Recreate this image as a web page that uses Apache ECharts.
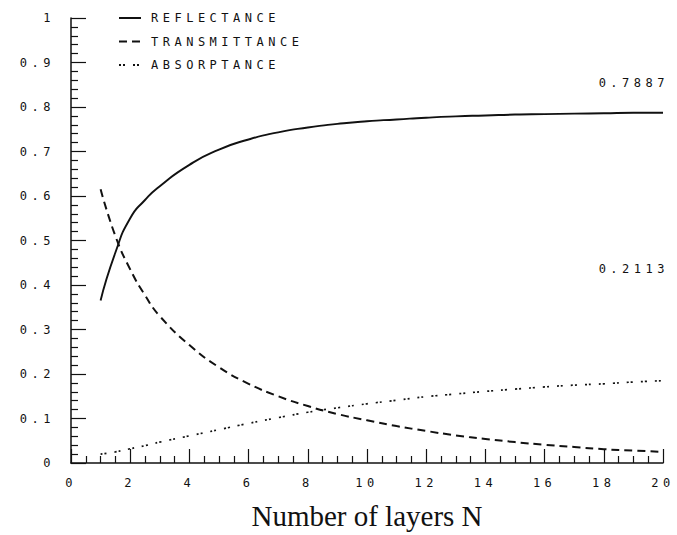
<!DOCTYPE html>
<html><head><meta charset="utf-8">
<script src="https://cdn.jsdelivr.net/npm/echarts@6/dist/echarts.min.js"></script>
<style>
html,body{margin:0;padding:0;background:#fff;}
#chart{width:677px;height:535px;}
#chart text[style*="Mono"]{letter-spacing:4.5px;}
</style></head><body><div id="chart"></div>
<script>
// ---- data ----
const layers        = [1, 1.5, 2, 2.5, 3, 4, 5, 6, 7, 8, 9, 10, 11, 12, 13, 14, 15, 16, 17, 18, 19, 20];
const reflectance   = [0.365,0.473,0.550,0.591,0.622,0.670,0.704,0.727,0.743,0.754,0.762,0.768,0.772,0.776,0.779,0.781,0.783,0.784,0.785,0.786,0.787,0.787];
const transmittance = [0.615,0.510,0.435,0.377,0.330,0.265,0.215,0.178,0.150,0.128,0.110,0.096,0.083,0.072,0.062,0.054,0.047,0.041,0.036,0.031,0.028,0.025];
const absorptance   = [0.020,0.025,0.032,0.039,0.047,0.061,0.075,0.089,0.102,0.114,0.124,0.133,0.141,0.149,0.155,0.161,0.166,0.171,0.175,0.178,0.182,0.185];
const seriesNames = ['REFLECTANCE','TRANSMITTANCE','ABSORPTANCE'];
const endLabelR = '0.7887';
const endLabelA = '0.2113';
const xAxisTitle = 'Number of layers N';

const mono = 'DejaVu Sans Mono';
const ink = '#111';
const pairs = (ys) => layers.map((x, i) => [x, ys[i]]);

const chart = echarts.init(document.getElementById('chart'), null, {renderer: 'svg'});
chart.setOption({
  animation: false,
  backgroundColor: '#fff',
  grid: {left: 71, right: 14, top: 18, bottom: 64, containLabel: false},
  legend: {
    orient: 'vertical', left: 113, top: 7, itemWidth: 22, itemHeight: 12, itemGap: 11.5,
    data: seriesNames,
    itemStyle: {color: 'rgba(0,0,0,0)', borderWidth: 0},
    textStyle: {fontFamily: mono, fontSize: 12, color: ink, padding: [0,0,0,5]}
  },
  xAxis: {
    type: 'value', min: 0, max: 20, interval: 2,
    name: xAxisTitle, nameLocation: 'middle', nameGap: 38,
    nameTextStyle: {fontFamily: 'Liberation Serif', fontSize: 29, color: ink},
    axisLine: {show: true, onZero: false, lineStyle: {color: ink, width: 1.5}},
    axisTick: {show: true, inside: true, length: 14, lineStyle: {color: ink, width: 1.2}},
    minorTick: {show: true, splitNumber: 4, length: 7, lineStyle: {color: ink, width: 1.2}},
    axisLabel: {show: true, fontFamily: mono, fontSize: 12, color: ink, margin: 14},
    splitLine: {show: false}
  },
  yAxis: {
    type: 'value', min: 0, max: 1, interval: 0.1,
    axisLine: {show: true, onZero: false, lineStyle: {color: ink, width: 1.5}},
    axisTick: {show: true, inside: true, length: 15, lineStyle: {color: ink, width: 1.2}},
    minorTick: {show: true, splitNumber: 5, length: 7, lineStyle: {color: ink, width: 1.2}},
    axisLabel: {show: true, fontFamily: mono, fontSize: 12, color: ink, margin: 16},
    splitLine: {show: false}
  },
  series: [
    {name: seriesNames[0], type: 'line', data: pairs(reflectance), symbol: 'none', smooth: 0.6,
     lineStyle: {color: ink, width: 1.9, type: 'solid'}, itemStyle: {color: ink}},
    {name: seriesNames[1], type: 'line', data: pairs(transmittance), symbol: 'none', smooth: 0.5,
     lineStyle: {color: ink, width: 2, type: [8,5]}, itemStyle: {color: ink}},
    {name: seriesNames[2], type: 'line', data: pairs(absorptance), symbol: 'none', smooth: 0.5,
     lineStyle: {color: ink, width: 1.7, type: [2,2,2,8]}, itemStyle: {color: ink}}
  ]
});
const n = layers.length - 1;
const pR = chart.convertToPixel({gridIndex: 0}, [layers[n], reflectance[n]]);
const pA = chart.convertToPixel({gridIndex: 0}, [layers[n], absorptance[n]]);
chart.setOption({
  graphic: [
    {type: 'text', x: pR[0] + 6, y: pR[1] - 30, style: {text: endLabelR, font: '12px "DejaVu Sans Mono"', fill: ink, align: 'right', verticalAlign: 'middle'}},
    {type: 'text', x: pA[0] + 6, y: pA[1] - 112, style: {text: endLabelA, font: '12px "DejaVu Sans Mono"', fill: ink, align: 'right', verticalAlign: 'middle'}}
  ]
});
</script></body></html>
